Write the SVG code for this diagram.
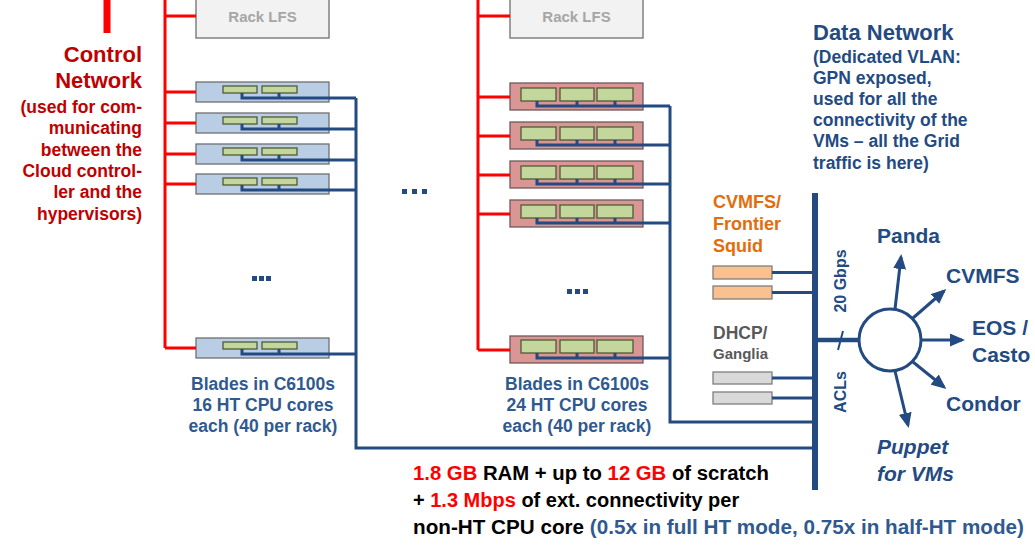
<svg xmlns="http://www.w3.org/2000/svg" width="1035" height="551" viewBox="0 0 1035 551">
<style>
text{font-family:"Liberation Sans",Arial,sans-serif;font-weight:bold}
.bladeB{fill:#b9cde5;stroke:#6f6f6f;stroke-width:1.3}
.bladeR{fill:#d99694;stroke:#6f5a5a;stroke-width:1.3}
.green{fill:#c3d69b;stroke:#4f5a35;stroke-width:1.3}
.lfs{fill:#f2f2f2;stroke:#808080;stroke-width:1.5}
.squid{fill:#fac090;stroke:#7f7f7f;stroke-width:1.3}
.grey{fill:#d9d9d9;stroke:#7f7f7f;stroke-width:1.3}
.red{fill:none;stroke:#ff0000;stroke-width:3}
.blue{fill:none;stroke:#234b82;stroke-width:3}
.arrow{fill:none;stroke:#234b82;stroke-width:3;marker-end:url(#ah)}
.ctl{fill:#c00000;text-anchor:end}
.dn{fill:#234b82}
.bl{fill:#2f5a8f;text-anchor:middle;font-size:17.5px}
.dest{fill:#234b82;font-size:21px}
.dots{fill:#234b82}
</style>
<defs>
<marker id="ah" markerUnits="userSpaceOnUse" markerWidth="15" markerHeight="13" refX="12" refY="6.5" orient="auto">
<path d="M0,0 L15,6.5 L0,13 Z" fill="#234b82"/>
</marker>
</defs>

<g id="control-network-label">
<text class="ctl" x="142" y="62" font-size="22">Control</text>
<text class="ctl" x="142" y="88" font-size="22">Network</text>
<text class="ctl" x="142" y="113" font-size="17.5">(used for com-</text>
<text class="ctl" x="142" y="134" font-size="17.5">municating</text>
<text class="ctl" x="142" y="156" font-size="17.5">between the</text>
<text class="ctl" x="142" y="177" font-size="17.5">Cloud control-</text>
<text class="ctl" x="142" y="198" font-size="17.5">ler and the</text>
<text class="ctl" x="142" y="220" font-size="17.5">hypervisors)</text>
</g>

<g id="rack-lfs-1">
<rect class="lfs" x="196" y="-3" width="133" height="41"/>
<text x="262.5" y="21.5" font-size="15" fill="#a6a6a6" text-anchor="middle">Rack LFS</text>
</g>
<g id="rack-lfs-2">
<rect class="lfs" x="510" y="-3" width="133" height="41"/>
<text x="576.5" y="21.5" font-size="15" fill="#a6a6a6" text-anchor="middle">Rack LFS</text>
</g>

<g id="blade-l1"><rect class="bladeB" x="196" y="82" width="133" height="20"/><rect class="green" x="223" y="86" width="34" height="7"/><rect class="green" x="262" y="86" width="35" height="7"/></g>
<g id="blade-l2"><rect class="bladeB" x="196" y="113" width="133" height="20"/><rect class="green" x="223" y="117" width="34" height="7"/><rect class="green" x="262" y="117" width="35" height="7"/></g>
<g id="blade-l3"><rect class="bladeB" x="196" y="144" width="133" height="20"/><rect class="green" x="223" y="148" width="34" height="7"/><rect class="green" x="262" y="148" width="35" height="7"/></g>
<g id="blade-l4"><rect class="bladeB" x="196" y="174" width="133" height="20"/><rect class="green" x="223" y="178" width="34" height="7"/><rect class="green" x="262" y="178" width="35" height="7"/></g>
<g id="blade-l5"><rect class="bladeB" x="196" y="338" width="133" height="20"/><rect class="green" x="223" y="342" width="34" height="7"/><rect class="green" x="262" y="342" width="35" height="7"/></g>

<g id="blade-r1"><rect class="bladeR" x="510" y="83" width="133" height="27"/><rect class="green" x="521" y="88" width="35" height="13"/><rect class="green" x="560" y="88" width="34" height="13"/><rect class="green" x="597" y="88" width="36" height="13"/></g>
<g id="blade-r2"><rect class="bladeR" x="510" y="122" width="133" height="27"/><rect class="green" x="521" y="127" width="35" height="13"/><rect class="green" x="560" y="127" width="34" height="13"/><rect class="green" x="597" y="127" width="36" height="13"/></g>
<g id="blade-r3"><rect class="bladeR" x="510" y="161" width="133" height="27"/><rect class="green" x="521" y="166" width="35" height="13"/><rect class="green" x="560" y="166" width="34" height="13"/><rect class="green" x="597" y="166" width="36" height="13"/></g>
<g id="blade-r4"><rect class="bladeR" x="510" y="200" width="133" height="27"/><rect class="green" x="521" y="205" width="35" height="13"/><rect class="green" x="560" y="205" width="34" height="13"/><rect class="green" x="597" y="205" width="36" height="13"/></g>
<g id="blade-r5"><rect class="bladeR" x="510" y="336" width="133" height="27"/><rect class="green" x="521" y="340" width="35" height="13"/><rect class="green" x="560" y="340" width="34" height="13"/><rect class="green" x="597" y="340" width="36" height="13"/></g>

<g id="dots-left" class="dots"><rect x="252" y="276" width="5" height="5"/><rect x="259" y="276" width="5" height="5"/><rect x="266" y="276" width="5" height="5"/></g>
<g id="dots-middle" class="dots"><rect x="402" y="189" width="5" height="5"/><rect x="412" y="189" width="5" height="5"/><rect x="422" y="189" width="5" height="5"/></g>
<g id="dots-right" class="dots"><rect x="567" y="289" width="5" height="5"/><rect x="575" y="289" width="5" height="5"/><rect x="583" y="289" width="5" height="5"/></g>

<g id="label-blades-16">
<text class="bl" x="263" y="390">Blades in C6100s</text>
<text class="bl" x="263" y="411">16 HT CPU cores</text>
<text class="bl" x="263" y="432">each (40 per rack)</text>
</g>
<g id="label-blades-24">
<text class="bl" x="577" y="390">Blades in C6100s</text>
<text class="bl" x="577" y="411">24 HT CPU cores</text>
<text class="bl" x="577" y="432">each (40 per rack)</text>
</g>

<g id="data-network-label">
<text class="dn" x="813" y="40" font-size="22">Data Network</text>
<text class="dn" x="813" y="63" font-size="17.5">(Dedicated VLAN:</text>
<text class="dn" x="813" y="84" font-size="17.5">GPN exposed,</text>
<text class="dn" x="813" y="105" font-size="17.5">used for all the</text>
<text class="dn" x="813" y="126" font-size="17.5">connectivity of the</text>
<text class="dn" x="813" y="147" font-size="17.5">VMs – all the Grid</text>
<text class="dn" x="813" y="169" font-size="17.5">traffic is here)</text>
</g>

<g id="squid">
<text x="713" y="208" font-size="18" fill="#e46c0a">CVMFS/</text>
<text x="713" y="230" font-size="18" fill="#e46c0a">Frontier</text>
<text x="713" y="252" font-size="18" fill="#e46c0a">Squid</text>
<rect class="squid" x="713" y="266" width="59" height="13"/>
<rect class="squid" x="713" y="286" width="59" height="13"/>
</g>

<g id="dhcp">
<text x="713" y="339" font-size="17.5" fill="#595959">DHCP/</text>
<text x="713" y="359" font-size="15" fill="#595959">Ganglia</text>
<rect class="grey" x="713" y="372" width="59" height="12"/>
<rect class="grey" x="713" y="392" width="59" height="12"/>
</g>

<g id="data-bus">
<rect x="812" y="193" width="6" height="297" fill="#234b82"/>
<text transform="translate(846,281) rotate(-90)" font-size="16" fill="#234b82" text-anchor="middle">20 Gbps</text>
<text transform="translate(846,392) rotate(-90)" font-size="16" fill="#234b82" text-anchor="middle">ACLs</text>
</g>

<g id="router">
<circle cx="890" cy="340" r="31" fill="#ffffff" stroke="#234b82" stroke-width="3"/>
</g>

<g id="dest-panda"><text class="dest" x="877" y="243">Panda</text></g>
<g id="dest-cvmfs"><text class="dest" x="946" y="283">CVMFS</text></g>
<g id="dest-eos"><text class="dest" x="972" y="335">EOS /</text><text class="dest" x="972" y="362">Casto</text></g>
<g id="dest-condor"><text class="dest" x="946" y="411">Condor</text></g>
<g id="dest-puppet"><text class="dest" x="877" y="454" font-style="italic">Puppet</text><text class="dest" x="877" y="481" font-style="italic">for VMs</text></g>

<g id="resources-note" font-size="20">
<text x="413" y="480" textLength="356" lengthAdjust="spacingAndGlyphs"><tspan fill="#ff0000">1.8 GB</tspan><tspan fill="#000000"> RAM + up to </tspan><tspan fill="#ff0000">12 GB</tspan><tspan fill="#000000"> of scratch</tspan></text>
<text x="413" y="507"><tspan fill="#000000">+ </tspan><tspan fill="#ff0000">1.3 Mbps</tspan><tspan fill="#000000"> of ext. connectivity per</tspan></text>
<text x="413" y="534" textLength="611" lengthAdjust="spacingAndGlyphs"><tspan fill="#000000">non-HT CPU core </tspan><tspan fill="#2f5a8f">(0.5x in full HT mode, 0.75x in half-HT mode)</tspan></text>
</g>

<g id="connectors">
<path d="M107,0 V33" stroke="#ff0000" stroke-width="7" fill="none"/>
<path class="red" d="M165,0 V348 M165,16 H196 M165,92 H196 M165,123 H196 M165,154 H196 M165,184 H196 M165,348 H196"/>
<path class="red" d="M478,0 V350 M478,16 H510 M478,97 H510 M478,136 H510 M478,175 H510 M478,214 H510 M478,350 H510"/>
<path class="blue" d="M242,93 V98 H356 M279,93 V98 M242,124 V129 H356 M279,124 V129 M242,155 V160 H356 M279,155 V160 M242,185 V190 H356 M279,185 V190 M242,349 V354 H356 M279,349 V354 M356,98 V448 H815"/>
<path class="blue" d="M537,101 V106 H670 M577,101 V106 M615,101 V106 M537,140 V145 H670 M577,140 V145 M615,140 V145 M537,179 V184 H670 M577,179 V184 M615,179 V184 M537,218 V223 H670 M577,218 V223 M615,218 V223 M537,353 V358 H670 M577,353 V358 M615,353 V358 M670,106 V422 H815"/>
<path class="blue" d="M772,272.5 H815 M772,292.5 H815 M772,378 H815 M772,398 H815"/>
<path d="M815,340 H859" stroke="#234b82" stroke-width="4.5" fill="none"/>
<path d="M838,350 L843,331" stroke="#234b82" stroke-width="2" fill="none"/>
<path class="arrow" d="M895,309 L901,257"/>
<path class="arrow" d="M913,318 L944,291"/>
<path class="arrow" d="M922,340 L962,340"/>
<path class="arrow" d="M913,362 L944,387"/>
<path class="arrow" d="M895,371 L908,425"/>
</g>
</svg>
